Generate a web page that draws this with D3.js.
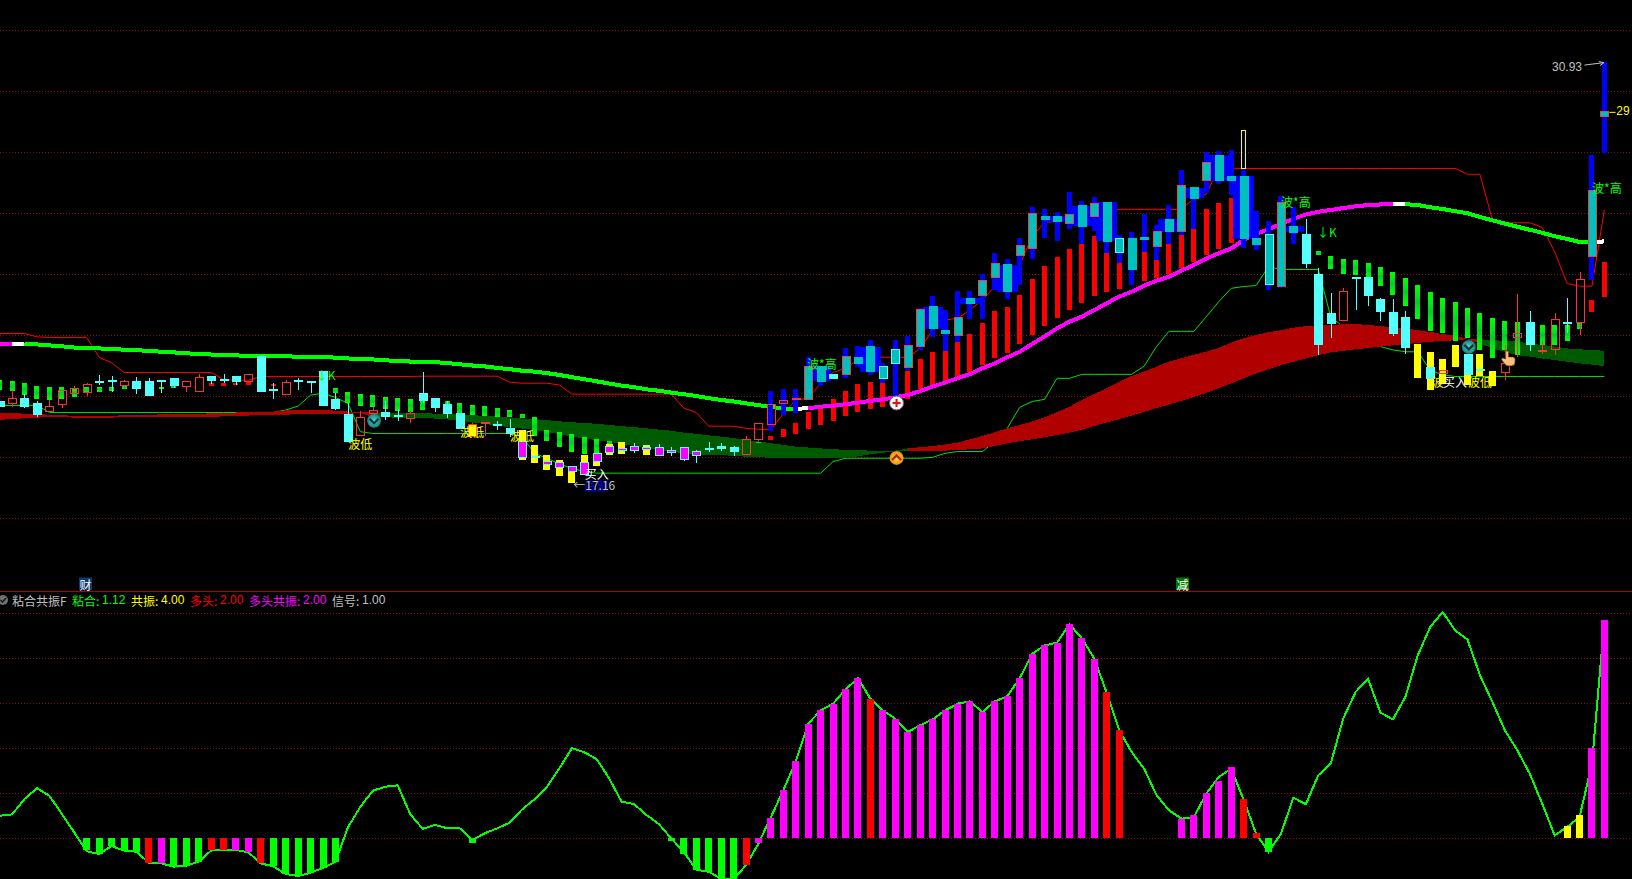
<!DOCTYPE html>
<html><head><meta charset="utf-8">
<script src="https://cdn.jsdelivr.net/npm/d3@7/dist/d3.min.js"></script>
<style>html,body{margin:0;padding:0;background:#000;overflow:hidden}svg{display:block}text{font-family:"Noto Sans CJK SC","Liberation Sans",sans-serif;font-size:12px}.num{font-family:"Liberation Sans",sans-serif}</style>
</head><body><svg id="c" width="1632" height="879"></svg>
<script>
const _=null;
const gridPrices=[16,18,20,22,24,26,28,30,32];
const gridOsc=[0,20,40,60,80,100];
const openP=[19.81,19.75,19.93,19.74,19.48,19.71,20.07,20.11,20.46,20.51,
20.34,20.49,20.49,20.50,20.58,20.30,20.14,20.63,20.54,20.65,
20.47,21.29,20.22,20.04,20.51,20.47,20.79,19.87,19.38,18.72,
19.41,19.47,19.35,19.26,20.07,19.91,19.71,19.41,18.67,19.10,
19.05,18.95,18.51,18.03,17.84,17.81,17.68,17.81,18.10,18.33,
18.27,18.33,18.30,18.30,18.20,18.30,18.17,18.29,18.33,18.30,
18.07,18.59,19.05,19.76,19.87,19.87,20.98,20.69,20.69,21.25,
21.61,20.98,21.51,20.95,21.61,22.92,22.16,21.97,23.21,23.31,
23.90,24.30,24.62,24.85,25.87,25.90,25.67,26.23,25.87,26.36,
25.15,25.15,25.21,24.89,25.80,25.38,26.82,27.08,27.90,27.21,
27.21,25.18,25.28,23.60,25.57,25.28,24.00,22.69,22.49,23.88,
23.87,23.18,22.75,22.59,_,20.95,20.74,_,21.37,20.86,
_,20.78,21.92,22.42,21.46,21.51,22.41,22.42,24.56,29.15];
const closeP=[19.64,19.92,19.64,19.38,19.66,20.19,20.25,20.38,20.44,20.49,
20.49,20.23,20.03,20.48,20.33,20.49,20.61,20.52,20.50,20.49,
20.71,20.16,20.18,20.45,20.49,20.45,19.70,19.60,18.50,19.30,
19.54,19.32,19.33,19.43,19.84,19.61,19.41,18.92,19.05,19.12,
19.03,18.77,17.99,17.97,17.77,17.64,17.51,17.44,17.84,18.14,
18.20,18.20,18.23,18.04,18.14,17.91,18.04,18.25,18.29,18.17,
18.56,19.09,19.71,19.84,19.92,20.98,20.49,20.59,21.28,21.08,
20.79,20.59,21.05,21.64,22.82,22.20,22.04,22.59,23.02,23.80,
24.36,23.41,24.92,25.97,25.80,25.71,25.94,25.57,26.30,25.08,
24.69,24.16,25.12,25.38,25.38,26.89,26.49,27.64,27.05,27.05,
25.15,24.98,23.64,26.33,25.37,24.36,21.70,22.39,23.43,23.86,
23.31,22.78,22.06,21.60,_,20.56,20.85,_,20.69,20.84,
_,21.08,22.05,21.70,21.48,22.51,22.39,23.82,26.75,29.34];
const highP=[19.81,20.19,20.06,19.83,19.87,20.19,20.33,20.44,20.69,20.65,
20.54,20.63,20.58,20.54,20.58,20.49,20.71,20.63,20.72,20.65,
20.71,21.31,20.41,20.54,20.59,20.49,20.82,20.11,19.76,19.51,
19.63,19.83,19.59,19.54,20.79,19.91,19.84,19.41,19.10,19.14,
19.18,19.25,18.51,18.03,17.84,17.81,17.68,17.81,18.10,18.33,
18.27,18.46,18.30,18.43,18.33,18.30,18.23,18.50,18.46,18.36,
18.69,19.12,19.71,19.84,19.92,20.98,20.98,20.69,21.28,21.25,
21.61,20.98,21.51,21.64,22.82,22.92,22.16,22.59,23.21,23.80,
24.36,24.30,24.92,25.97,25.87,25.90,25.94,26.23,26.30,26.36,
25.15,25.15,25.21,25.38,25.80,26.89,26.82,27.64,27.90,27.21,
27.21,25.18,25.28,26.33,25.57,25.80,24.19,23.37,23.53,23.88,
23.87,23.21,23.18,22.78,_,20.95,20.85,_,21.37,20.86,
_,21.67,23.34,22.78,21.77,22.71,23.21,24.05,26.75,29.34];
const lowP=[19.64,19.64,19.60,19.31,19.48,19.62,20.05,20.00,20.36,20.14,
20.30,20.06,20.03,20.10,20.26,20.14,20.14,20.39,20.41,20.36,
20.47,20.16,19.91,20.04,20.19,20.11,19.67,19.54,18.50,18.72,
19.41,19.21,19.19,19.12,19.76,19.46,19.29,18.92,18.67,18.69,
18.89,18.67,17.99,17.97,17.77,17.64,17.51,17.44,17.84,18.14,
18.20,18.14,18.23,18.04,18.04,17.87,17.81,18.17,18.20,18.04,
18.07,18.53,19.05,19.76,19.87,19.87,20.49,20.59,20.69,21.08,
20.79,20.59,21.05,20.95,21.61,22.20,22.04,21.97,23.02,23.31,
23.90,23.41,24.62,24.85,25.80,25.71,25.67,25.57,25.87,25.08,
24.69,24.16,25.12,24.89,25.38,25.38,26.49,27.08,27.05,27.05,
25.15,24.98,23.64,23.60,25.37,24.19,21.34,21.90,22.46,22.82,
22.95,22.46,21.97,21.37,_,20.56,20.74,_,20.69,20.84,
_,20.52,21.29,21.47,21.37,21.34,22.05,22.00,24.56,29.15];
const maLine=[21.72,21.72,21.72,21.69,21.66,21.63,21.59,21.56,21.56,21.54,
21.52,21.50,21.48,21.45,21.43,21.40,21.38,21.36,21.34,21.33,
21.32,21.31,21.30,21.30,21.29,21.27,21.27,21.26,21.23,21.22,
21.20,21.17,21.15,21.13,21.12,21.11,21.08,21.04,21.00,20.97,
20.92,20.88,20.83,20.80,20.75,20.69,20.62,20.55,20.48,20.41,
20.34,20.29,20.22,20.17,20.11,20.06,20.00,19.93,19.87,19.82,
19.76,19.70,19.64,19.59,19.58,19.60,19.65,19.68,19.73,19.78,
19.84,19.89,19.96,20.03,20.16,20.31,20.44,20.58,20.72,20.91,
21.07,21.27,21.45,21.71,21.95,22.22,22.44,22.60,22.82,23.04,
23.26,23.42,23.62,23.78,23.91,24.11,24.30,24.51,24.68,24.84,
25.11,25.31,25.47,25.64,25.81,25.95,26.04,26.10,26.16,26.22,
26.26,26.28,26.29,26.29,26.26,26.19,26.13,26.06,25.99,25.87,
25.76,25.65,25.55,25.45,25.35,25.24,25.15,25.05,25.04,25.07];
const maRuns=[[0,1,"#ff00ff"],[1,2,"#ffffff"],[2,64,"#00ff00"],[64,65,"#ffffff"],[65,112,"#ff00ff"],[112,113,"#ffffff"],[113,128,"#00ff00"],[128,129,"#ffffff"]];
const upperChannel=[22.05,22.05,22.05,21.94,21.92,21.92,21.92,21.92,21.27,21.09,
20.77,20.77,20.77,20.77,20.77,20.77,20.77,20.77,20.54,20.52,
20.52,20.63,20.64,20.64,20.64,20.64,20.64,20.64,20.64,20.64,
20.64,20.64,20.64,20.64,20.65,20.65,20.65,20.65,20.65,20.65,
20.65,20.45,20.42,20.42,20.42,20.36,20.06,20.06,20.06,20.06,
20.06,20.06,20.06,20.06,20.06,19.60,19.46,19.01,19.01,19.01,
18.94,18.91,18.89,19.43,19.87,19.92,20.42,20.77,20.91,21.18,
21.27,21.27,21.27,21.27,21.56,22.16,22.49,22.55,22.82,23.15,
23.59,23.91,24.30,25.22,25.69,25.72,25.77,26.10,26.12,26.12,
26.12,26.12,26.12,26.12,26.12,26.12,26.48,26.62,27.47,27.47,
27.46,27.46,27.46,27.46,27.46,27.46,27.46,27.46,27.46,27.46,
27.46,27.46,27.46,27.46,27.46,27.46,27.46,27.46,27.27,27.27,
25.77,25.68,25.68,25.68,25.53,24.73,23.69,23.60,23.60,26.10];
const lowerChannel=[19.69,19.69,19.69,19.70,19.46,19.46,19.46,19.46,19.46,19.46,
19.46,19.46,19.46,19.46,19.46,19.46,19.46,19.46,19.46,19.46,
19.46,19.46,19.46,19.54,19.67,20.03,20.09,19.95,19.76,18.83,
18.77,18.77,18.77,18.77,18.77,18.77,18.77,18.77,18.77,18.77,
18.77,18.77,18.67,18.12,17.96,17.77,17.63,17.52,17.47,17.47,
17.47,17.47,17.47,17.47,17.47,17.47,17.47,17.47,17.47,17.47,
17.47,17.47,17.47,17.47,17.47,17.47,17.47,17.85,17.96,17.96,
17.96,17.96,17.96,17.96,17.96,17.99,18.12,18.18,18.18,18.18,
18.50,18.94,19.63,19.82,19.89,20.58,20.58,20.71,20.71,20.71,
20.71,20.71,20.98,21.62,22.12,22.12,22.12,22.60,23.09,23.53,
23.59,23.62,24.24,24.15,24.15,24.15,24.15,22.60,22.27,22.05,
21.83,21.62,21.51,21.45,21.45,20.85,20.69,20.64,20.64,20.64,
20.64,20.64,20.64,20.64,20.64,20.64,20.64,20.64,20.64,20.64];
const bandTop=[19.44,19.44,19.42,19.40,19.39,19.38,19.34,19.34,19.34,19.34,
19.38,19.38,19.38,19.40,19.40,19.41,19.42,19.43,19.43,19.46,
19.47,19.48,19.49,19.53,19.53,19.54,19.54,19.52,19.49,19.47,
19.46,19.45,19.45,19.44,19.45,19.42,19.40,19.39,19.37,19.35,
19.33,19.29,19.26,19.23,19.21,19.17,19.14,19.11,19.09,19.05,
19.01,18.98,18.94,18.90,18.86,18.80,18.76,18.71,18.67,18.62,
18.56,18.51,18.45,18.40,18.34,18.31,18.28,18.26,18.23,18.22,
18.21,18.21,18.21,18.28,18.32,18.36,18.41,18.47,18.58,18.69,
18.81,18.94,19.05,19.16,19.30,19.47,19.65,19.87,20.07,20.25,
20.46,20.66,20.80,20.96,21.13,21.24,21.35,21.45,21.58,21.75,
21.89,22.00,22.09,22.16,22.24,22.29,22.31,22.33,22.35,22.36,
22.33,22.29,22.25,22.21,22.16,22.10,22.03,21.97,21.88,21.86,
21.83,21.81,21.78,21.72,21.67,21.62,21.56,21.53,21.51,21.48];
const bandBot=[19.22,19.24,19.27,19.29,19.31,19.31,19.29,19.29,19.29,19.29,
19.31,19.31,19.32,19.32,19.31,19.31,19.31,19.32,19.33,19.34,
19.36,19.38,19.38,19.39,19.40,19.41,19.41,19.42,19.42,19.44,
19.31,19.30,19.29,19.27,19.29,19.26,19.23,19.20,19.13,19.09,
19.02,18.98,18.93,18.89,18.82,18.75,18.67,18.61,18.55,18.50,
18.43,18.36,18.29,18.23,18.18,18.12,18.09,18.07,18.06,18.04,
18.01,17.99,17.98,17.98,17.98,17.98,17.98,17.98,17.98,18.02,
18.09,18.14,18.19,18.20,18.20,18.20,18.21,18.23,18.25,18.28,
18.36,18.45,18.52,18.58,18.65,18.72,18.80,18.89,19.02,19.13,
19.24,19.36,19.48,19.60,19.72,19.84,19.97,20.10,20.26,20.41,
20.58,20.74,20.88,21.01,21.12,21.23,21.34,21.43,21.48,21.53,
21.57,21.62,21.66,21.70,21.74,21.78,21.80,21.83,21.86,21.72,
21.56,21.45,21.34,21.29,21.23,21.18,21.12,21.07,21.03,20.98];
const bandRuns=[[0,30,"#b00000"],[30,73,"#005a00"],[73,119,"#b00000"],[119,129,"#005a00"]];
const greenIdx=[0,1,2,3,4,5,6,7,8,9,10,13,14,27,28,29,30,31,32,33,34,36,37,38,39,40,41,42,43,44,45,46,47,48,49,61,106,107,108,109,110,111,112,113,114,115,116,117,118,119,120,121,122,124,125,126,127];
const greenTop=[20.52,20.49,20.41,20.33,20.29,20.29,20.25,20.30,20.29,20.29,20.33,20.29,20.33,20.26,20.13,20.06,20.03,19.97,19.93,19.90,19.84,19.84,19.77,19.71,19.68,19.61,19.54,19.41,19.32,18.89,18.82,18.76,18.67,18.59,18.53,18.50,24.75,24.59,24.49,24.46,24.36,24.23,24.06,23.87,23.64,23.41,23.21,23.08,22.88,22.72,22.56,22.46,22.42,22.33,22.33,22.33,22.42];
const greenBot=[20.19,20.16,20.03,19.90,19.87,19.90,19.97,20.11,20.14,20.18,20.23,20.23,20.26,20.10,19.77,19.67,19.64,19.57,19.51,19.47,19.54,19.71,19.41,19.38,19.35,19.32,19.32,19.27,18.69,18.53,18.33,18.17,18.10,18.14,18.43,18.46,24.62,24.16,24.00,23.97,23.87,23.60,23.31,22.95,22.52,22.13,22.05,21.80,21.89,21.51,21.24,21.51,21.34,21.67,21.67,21.80,22.19];
const yellowIdx=[38,42,43,44,45,46,47,48,49,50,52,114,115,116,117,118,119,120];
const yellowTop=[19.05,18.87,18.40,18.07,17.91,17.51,18.07,18.12,18.43,18.50,18.40,21.70,21.44,21.21,21.67,21.37,21.37,20.82];
const yellowBot=[18.67,17.91,17.81,17.56,17.38,17.14,17.44,17.71,18.07,18.10,18.07,20.59,20.19,20.39,20.95,20.36,20.65,20.33];
const redIdx=[17,18,19,20,22,62,63,64,65,66,67,68,69,70,71,73,74,75,76,77,78,79,80,81,82,83,84,85,86,87,88,89,90,91,92,93,94,95,96,97,98,99,128,129];
const redTop=[20.41,20.41,20.41,20.47,20.38,18.69,18.92,19.12,19.48,19.71,19.90,20.16,20.39,20.46,20.43,20.82,21.21,21.44,21.48,21.77,22.03,22.39,22.79,22.92,23.31,23.84,24.26,24.56,24.82,24.98,25.25,24.69,24.36,23.74,24.72,24.46,24.98,25.28,25.48,26.13,26.33,26.49,23.15,24.39];
const redBot=[20.33,20.33,20.36,20.36,20.33,18.56,18.66,18.75,18.92,19.05,19.18,19.35,19.48,19.57,19.64,19.90,20.23,20.35,20.49,20.62,20.79,21.02,21.25,21.41,21.71,22.00,22.30,22.56,22.82,23.05,23.28,23.41,23.51,23.64,23.77,23.87,24.00,24.20,24.39,24.62,24.82,25.02,22.75,23.24];
const blueIdx=[62,63,64,65,66,68,69,70,71,72,73,74,75,76,77,78,79,80,81,82,83,84,85,86,87,88,89,90,91,92,93,94,95,96,97,98,99,100,101,102,103,104,128,129];
const blueTop=[20.16,20.23,20.23,21.28,20.98,21.57,21.64,21.84,21.07,21.84,21.97,22.89,23.28,22.82,23.44,23.44,24.00,24.69,24.49,25.18,26.20,26.13,26.03,26.69,26.39,26.53,26.36,25.28,25.38,25.97,25.61,26.26,27.41,26.82,28.00,28.03,28.07,27.47,26.06,25.74,26.56,26.19,27.90,30.95];
const blueBot=[18.85,19.38,19.44,19.87,20.33,20.60,20.94,20.69,20.42,20.00,20.85,21.51,21.94,21.48,21.77,22.53,22.53,23.48,23.18,23.64,24.49,25.18,25.08,25.48,24.98,25.41,24.69,24.36,23.64,24.72,24.46,24.98,25.28,25.48,26.66,26.95,26.59,24.85,24.78,23.47,23.54,24.98,23.80,27.97];
const wideBlueIdx=[66,70,75,78,81,85,87,89,94,96,98,100,104];
const hollowIdx=[62,63,64];
const cyanEdgeIdx=[71,72,90,102];
const magentaFrom=42, magentaTo=56;
const oscLine=[9.9,10.5,17.3,22.1,18.8,10.7,2.5,-5.9,-7.1,-3.6,
-5.6,-6.1,-11.1,-11.3,-12.7,-12.3,-10.5,-5.6,-5.2,-5.3,
-6.4,-11.3,-12.6,-16,-16.9,-15.4,-13.3,-10.5,4.7,13.9,
21,22.8,23.4,10.7,4.1,5.8,4.3,4.3,-0.9,2.1,
4.3,6.8,12.7,17.2,22.8,31,39.9,38.1,35,26.5,
16.1,15.1,10.2,6.2,-0.3,-6.2,-14.1,-15,-18.1,-18.1,
-12.1,-2.5,9.3,21.2,34.1,50.8,56.7,59.7,66.1,71,
61.9,56.7,53,47.1,50.1,52.7,56.7,59.7,60.7,56,
60.7,63,71,81.8,85.6,86.8,95,88.7,79.7,64.4,
47.9,38.2,30.8,19,12.3,8.6,9.3,19.7,27.1,30.8,
17,1.9,-6.2,1.9,17.9,15,27.9,33,53,64.9,
70.8,55.7,52.7,62.7,81.2,93.8,100.4,92.3,88.1,72.3,
60.4,47.9,39,28.6,15.3,1.2,4.9,9.3,33,96.7];
const oscBarIdx=[7,8,9,10,11,12,13,14,15,16,17,18,19,20,21,22,23,24,25,26,27,38,54,55,56,57,58,59,60,61,62,63,64,65,66,67,68,69,70,71,72,73,74,75,76,77,78,79,80,81,82,83,84,85,86,87,88,89,90,95,96,97,98,99,100,101,102,126,127,128,129];
const oscBarVal=[-5.3,-7.1,-3.6,-5.3,-6.1,-11.3,-11.3,-12.7,-12.3,-10.5,-5.3,-5.3,-5.3,-6.4,-11.3,-12.6,-16,-16.9,-15.4,-13.3,-10.5,-2,-1.3,-7.3,-14.1,-15.1,-18.1,-18.1,-12.1,-2.4,9,21.2,34.1,50.8,56.7,59.7,66.1,71,61.9,56.7,53,47.1,50.1,52.7,56.7,59.7,60.7,56,60.7,63,71,81.8,85.6,86.8,95,88.7,79.7,64.7,47.9,8.4,10.1,19.9,25.2,31.6,17.2,2.1,-6.4,5.2,10.1,39.9,96.9];
const oscBarTone="gggggrmgggrrmmrgggggg"+"g"+"g"+"gggggr"+"mmmmmmmmm"+"r"+"mmmmmmmmmmmmmmmmmm"+"rr"+"mmmmm"+"rr"+"g"+"yy"+"mm";
const toneColor={g:"#00ff00",r:"#ff0000",m:"#ff00ff",y:"#ffff00"};
const headerItems=[["粘合共振F",12,"#c0c0c0"],["粘合:",72,"#00ff00"],["1.12",102,"#00ff00"],["共振:",131,"#ffff00"],["4.00",161,"#ffff00"],["多头:",190,"#ff0000"],["2.00",220,"#ff0000"],["多头共振:",249,"#ff00ff"],["2.00",303,"#ff00ff"],["信号:",332,"#c0c0c0"],["1.00",362,"#c0c0c0"]];
const annotations=[
["波低",29,18.43,"#ffff00"],["波低",38,18.85,"#ffff00"],["波低",42,18.69,"#ffff00"],
["底部",48,17.08,"#0000ff"],["买入",48,17.47,"#ffffff"],["←17.16",47.8,17.10,"#c0c0c0"],
["波*高",66.1,21.05,"#00ff00"],["波*高",104.2,26.38,"#00ff00"],["波*高",129.2,26.84,"#00ff00"],
["↓K",26.2,20.70,"#00ff00"],["↓K",106.7,25.38,"#00ff00"],
["波",115.6,20.49,"#ffff00"],["买入",117,20.49,"#ffffff"],["波低",119,20.49,"#ffff00"]];

const W=1632,H=879;
const x=d3.scaleLinear().domain([0,129]).range([-0.4,1604.4]);
const y=d3.scaleLinear().domain([16,32]).range([518,30]);
const yo=d3.scaleLinear().domain([0,100]).range([838,613]);
const svg=d3.select("#c");
svg.append("rect").attr("width",W).attr("height",H).attr("fill","#000");
const defs=svg.append("defs");
const gr=defs.append("linearGradient").attr("id","gs").attr("x1",0).attr("x2",0).attr("y1",0).attr("y2",1);
[[0,"#00ff00"],[.3,"#00e818"],[.5,"#00cc28"],[.7,"#00e818"],[1,"#00ff00"]].forEach(s=>gr.append("stop").attr("offset",s[0]).attr("stop-color",s[1]));

function grid(scale,vals){
 const g=svg.append("g").call(d3.axisRight(scale).tickValues(vals).tickSize(W).tickFormat(""));
 g.select(".domain").remove();
 g.selectAll("line").attr("stroke","#8a1010").attr("stroke-dasharray","1 2").attr("shape-rendering","crispEdges");
}
grid(y,gridPrices);grid(yo,gridOsc);
svg.append("line").attr("x1",0).attr("x2",W).attr("y1",591.5).attr("y2",591.5).attr("stroke","#b00000");

const I=d3.range(130);
const thin=(arr,c)=>svg.append("path").datum(I).attr("fill","none").attr("stroke",c).attr("stroke-width",1).attr("d",d3.line().x(i=>x(i)).y(i=>y(arr[i])));
thin(upperChannel,"#ff0000");thin(lowerChannel,"#00e000");
bandRuns.forEach(([a,b,c])=>{
 svg.append("path").datum(I.slice(a,b+1)).attr("fill",c).attr("shape-rendering","crispEdges")
  .attr("d",d3.area().x(i=>x(i)).y0(i=>y(bandBot[i])).y1(i=>y(bandTop[i])));
});

function bars(idx,top,bot,w,fill){
 svg.append("g").attr("shape-rendering","crispEdges").selectAll("rect").data(idx).join("rect")
 .attr("x",i=>Math.round(x(i)-w/2)).attr("width",w)
 .attr("y",(i,k)=>y(top[k])).attr("height",(i,k)=>Math.max(1,y(bot[k])-y(top[k]))).attr("fill",fill);
}
bars(greenIdx,greenTop,greenBot,5,"url(#gs)");
bars(yellowIdx,yellowTop,yellowBot,7,"#ffff00");
bars(redIdx,redTop,redBot,5,"#ff0000");
maRuns.forEach(([a,b,c])=>{
 svg.append("path").datum(I.slice(a,b+1)).attr("fill","none").attr("stroke",c).attr("stroke-width",4).attr("shape-rendering","crispEdges")
 .attr("d",d3.line().x(i=>x(i)).y(i=>y(maLine[i])));
});
bars(blueIdx,blueTop,blueBot,5,"#0000ff");
svg.append("g").attr("shape-rendering","crispEdges").selectAll("rect").data(wideBlueIdx).join("rect")
 .attr("x",i=>x(i)-10.5).attr("width",21)
 .attr("y",i=>y(Math.max(openP[i],closeP[i]))).attr("height",i=>Math.abs(y(openP[i])-y(closeP[i]))).attr("fill","#0000ff");

const valid=I.filter(i=>openP[i]!==null);
const candle=svg.append("g").attr("shape-rendering","crispEdges");
const isUp=i=>closeP[i]>=openP[i];
const isBlue=i=>blueIdx.includes(i);
const stk=i=>{
 if(isUp(i)) return isBlue(i)&&!hollowIdx.includes(i)?"#e04848":"#ff3232";
 if(isBlue(i)&&!cyanEdgeIdx.includes(i)) return "#00bfbf";
 return "#54ffff";
};
valid.forEach(i=>{
 const cx=Math.round(x(i))+.5,t=y(Math.max(openP[i],closeP[i])),b=y(Math.min(openP[i],closeP[i]));
 if(!isBlue(i)){
  candle.append("line").attr("x1",cx).attr("x2",cx).attr("y1",y(highP[i])).attr("y2",t).attr("stroke",stk(i));
  candle.append("line").attr("x1",cx).attr("x2",cx).attr("y1",b).attr("y2",y(lowP[i])).attr("stroke",stk(i));
 }
 let fill=isUp(i)?"none":"#54ffff";
 if(isBlue(i)&&!hollowIdx.includes(i)) fill="#00bfbf";
 if(i>=magentaFrom&&i<=magentaTo) fill="#ff00ff";
 candle.append("rect").attr("x",cx-4).attr("width",8).attr("y",t).attr("height",Math.max(b-t,.5)).attr("fill",fill).attr("stroke",stk(i));
});
candle.append("rect").attr("x",x(100)-2).attr("width",4).attr("y",y(28.71)).attr("height",y(27.47)-y(28.71)).attr("fill","none").attr("stroke","#ffff00");

svg.append("path").datum(I).attr("fill","none").attr("stroke","#00ff00").attr("stroke-width",2).attr("shape-rendering","crispEdges")
 .attr("d",d3.line().x(i=>x(i)).y(i=>yo(oscLine[i])));
const oscG=svg.append("g").attr("shape-rendering","crispEdges");
oscG.selectAll("rect").data(oscBarIdx).join("rect")
 .attr("x",i=>Math.round(x(i)-3.5)).attr("width",7)
 .attr("y",(i,k)=>Math.min(yo(0),yo(oscBarVal[k]))).attr("height",(i,k)=>Math.abs(yo(oscBarVal[k])-yo(0)))
 .attr("fill",(i,k)=>toneColor[oscBarTone[k]]);

svg.append("g").selectAll("text").data(annotations).join("text")
 .attr("x",d=>x(d[1])).attr("y",d=>y(d[2])).attr("text-anchor","middle").attr("dominant-baseline","central")
 .attr("fill",d=>d[3]).text(d=>d[0]);
svg.append("text").attr("class","num").attr("x",x(127.2)).attr("y",y(30.79)).attr("text-anchor","end").attr("dominant-baseline","central").attr("fill","#c0c0c0").text("30.93");
svg.append("path").attr("d",`M${x(127.4)},${y(30.85)}L${x(128.96)},${y(30.93)}M${x(128.96)-5},${y(30.93)-1}L${x(128.96)},${y(30.93)}L${x(128.96)-4},${y(30.93)+3}`).attr("fill","none").attr("stroke","#c0c0c0");
svg.append("line").attr("x1",x(129.4)).attr("x2",x(129.9)).attr("y1",y(29.3)).attr("y2",y(29.3)).attr("stroke","#ffff00");
svg.append("text").attr("class","num").attr("x",x(129.95)).attr("y",y(29.34)).attr("dominant-baseline","central").attr("fill","#ffff00").text("29");

svg.append("circle").attr("cx",3).attr("cy",600).attr("r",5).attr("fill","#707070");
svg.append("path").attr("d","M0.5,600L2.5,602L6,598").attr("fill","none").attr("stroke","#111").attr("stroke-width",1.2);
svg.append("g").selectAll("text").data(headerItems).join("text")
 .attr("x",d=>d[1]).attr("y",600).attr("dominant-baseline","central").attr("fill",d=>d[2]).attr("class",d=>/^[0-9.]+$/.test(d[0])?"num":null).text(d=>d[0]);
[["财",79,"#0a3a6e"],["减",1176,"#007a00"]].forEach(([t,px,c])=>{
 svg.append("rect").attr("x",px).attr("y",577.5).attr("width",13).attr("height",12.5).attr("fill",c);
 svg.append("text").attr("x",px+6.5).attr("y",584).attr("text-anchor","middle").attr("dominant-baseline","central").attr("fill","#fff").text(t);
});
function chevronIcon(i,p,dir,c1,c2,fg){
 const cx=x(i),cy=y(p);
 const id="ic"+i;
 const g=defs.append("radialGradient").attr("id",id);
 g.append("stop").attr("offset",0).attr("stop-color",c1);g.append("stop").attr("offset",1).attr("stop-color",c2);
 svg.append("circle").attr("cx",cx).attr("cy",cy).attr("r",7).attr("fill",`url(#${id})`);
 svg.append("path").attr("d",`M${cx-4.5},${cy-2*dir}L${cx},${cy+2.5*dir}L${cx+4.5},${cy-2*dir}`).attr("fill","none").attr("stroke",fg).attr("stroke-width",2.2);
}
chevronIcon(30.1,19.19,1,"#4fd8c8","#15807e","#10353a");
chevronIcon(118.1,21.61,1,"#4fd8c8","#15807e","#10353a");
chevronIcon(72.1,17.97,-1,"#ffe060","#f09000","#c02000");
const px=x(72.1),py=y(19.77);
svg.append("circle").attr("cx",px).attr("cy",py).attr("r",7).attr("fill","#f4f4f4").attr("stroke","#666");
svg.append("path").attr("d",`M${px-4},${py}H${px+4}M${px},${py-4}V${py+4}`).attr("stroke","#e01010").attr("stroke-width",2);
const hx=x(121.3),hy=y(21.25);
svg.append("path").attr("d",`M${hx-3},${hy-6}a1.6,1.6 0 0 1 3,0V${hy-1}h4a2.5,2.5 0 0 1 2.5,2.5V${hy+4}a4,4 0 0 1 -4,4h-3a4,4 0 0 1 -3,-1.5L${hx-7},${hy+2}a1.5,1.5 0 0 1 2.5,-1.5L${hx-3},${hy+1}Z`).attr("fill","#f8c078").attr("stroke","#503010").attr("stroke-width",.7);
</script></body></html>
